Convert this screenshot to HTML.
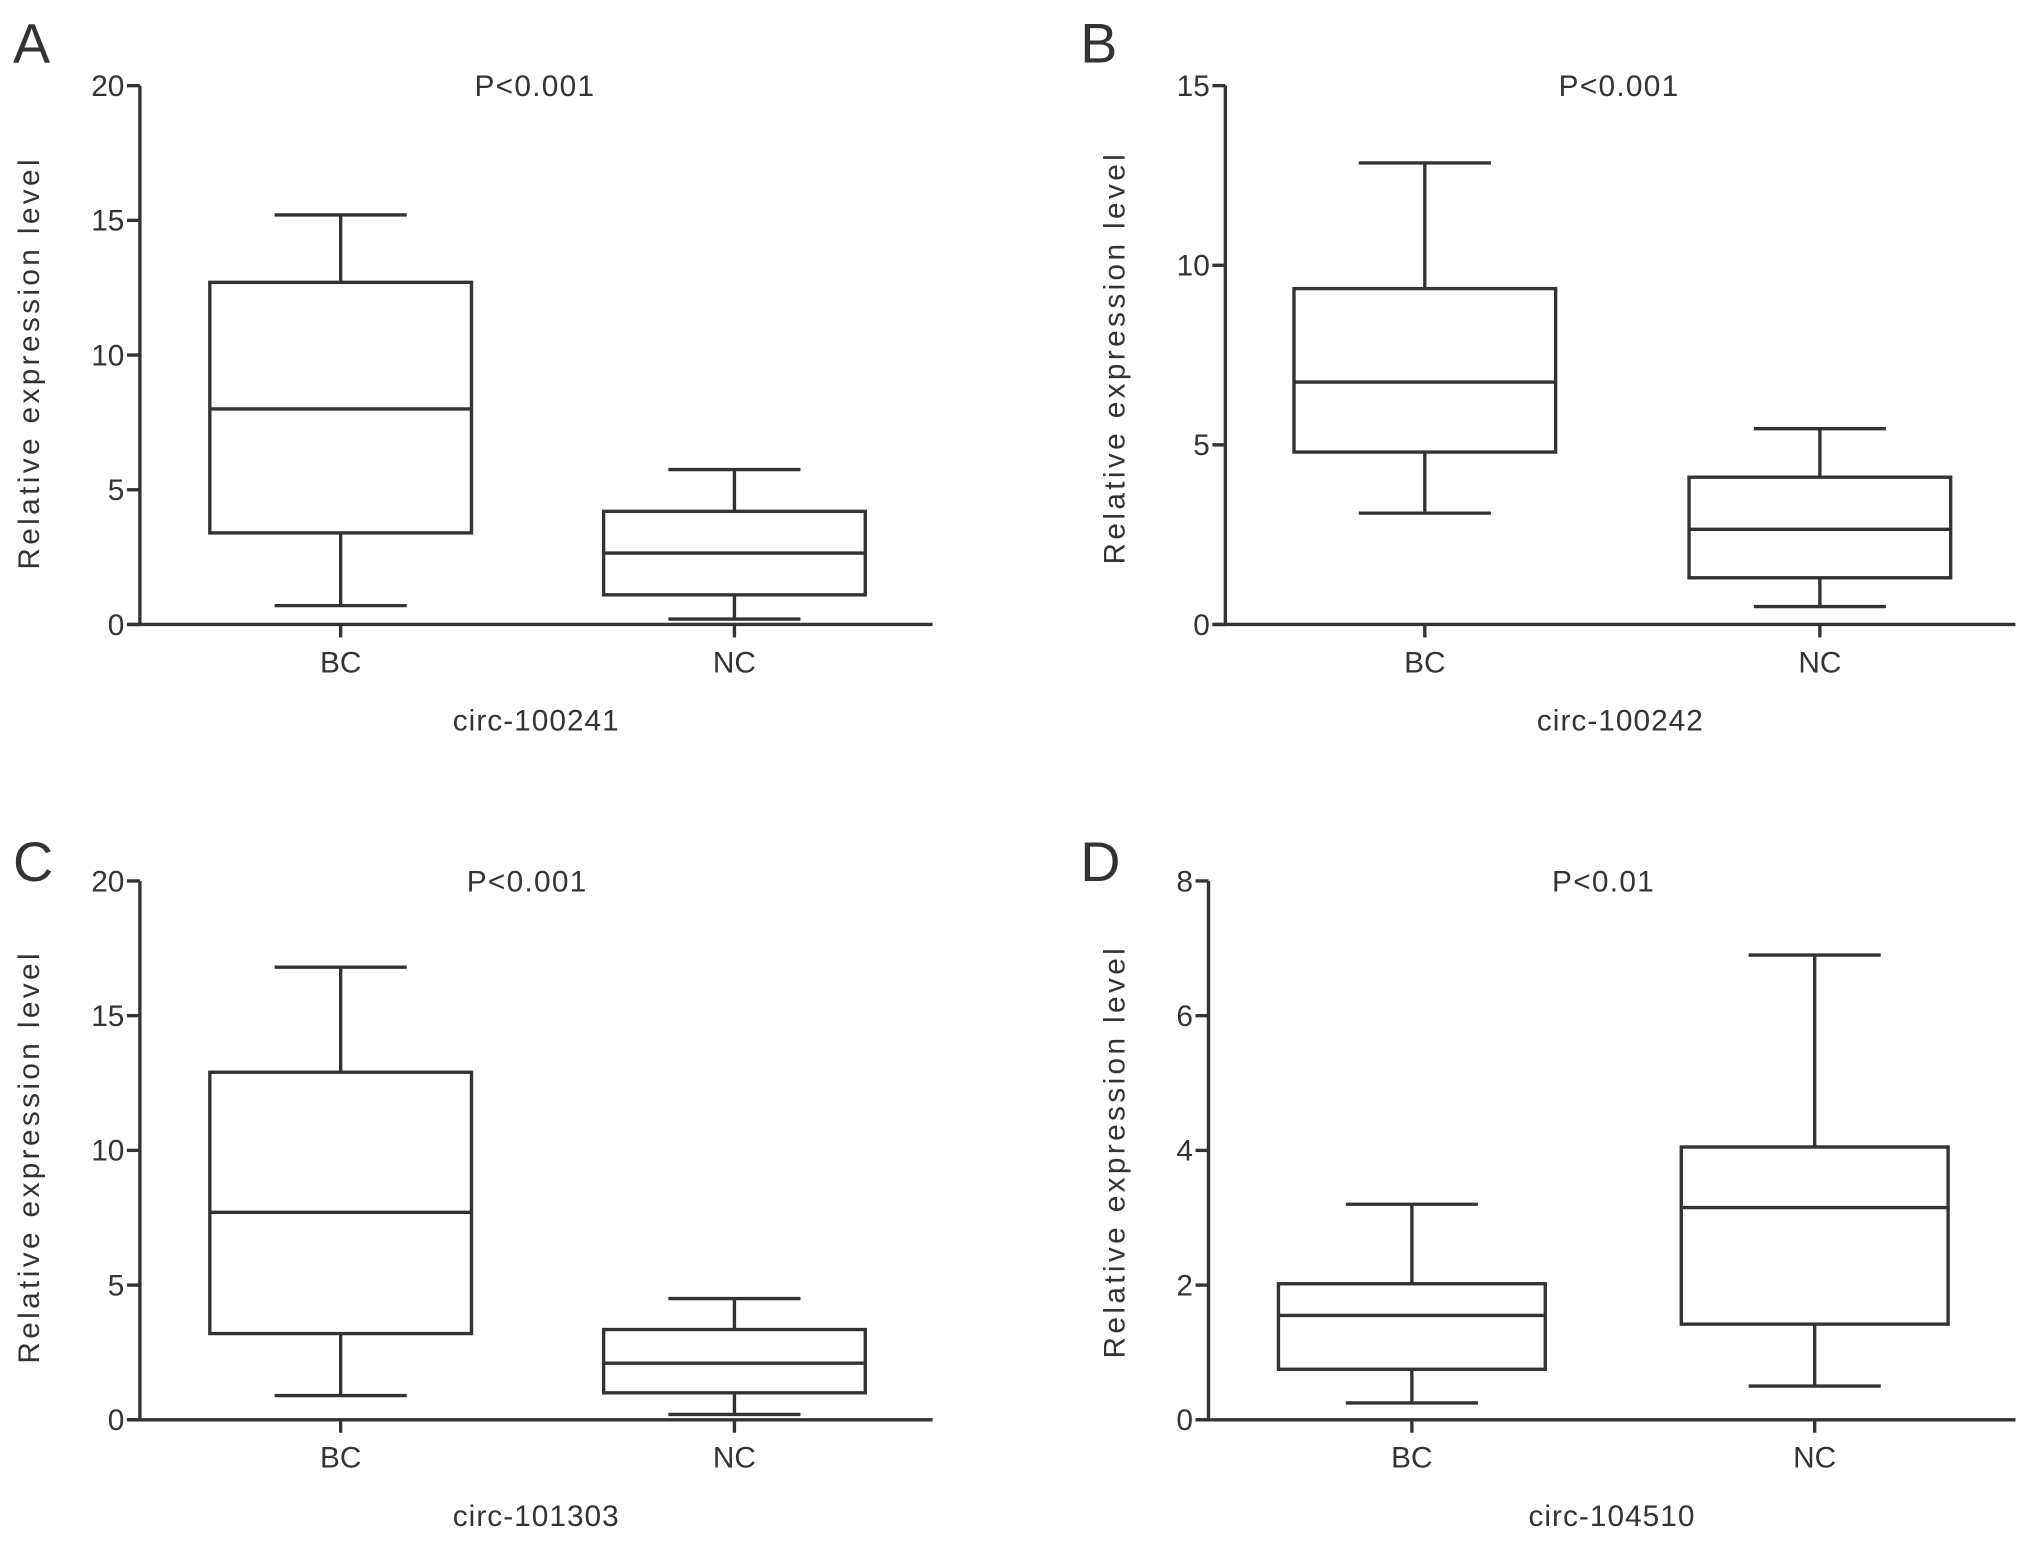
<!DOCTYPE html>
<html><head><meta charset="utf-8"><style>
html,body{margin:0;padding:0;background:#fff}
svg{display:block}
text{font-family:"Liberation Sans",sans-serif;fill:#333}
</style></head><body>
<svg id="fig" width="2031" height="1543" viewBox="0 0 1568 1191" xmlns="http://www.w3.org/2000/svg"></svg>
<script>
const panelLetters = ["A","B","C","D"];
const panelTitles = ["circ-100241","circ-100242","circ-101303","circ-104510"];
const pLabels = ["P<0.001","P<0.001","P<0.001","P<0.01"];
const categories = ["BC","NC"];
const yMaxes = [20,15,20,8];
const yTicks = [[0,5,10,15,20],[0,5,10,15],[0,5,10,15,20],[0,2,4,6,8]];
// [min, q1, median, q3, max] per group
const boxA = [[0.7,3.4,8.0,12.7,15.2],[0.2,1.1,2.65,4.2,5.75]];
const boxB = [[3.1,4.8,6.75,9.35,12.85],[0.5,1.3,2.65,4.1,5.45]];
const boxC = [[0.9,3.2,7.7,12.9,16.8],[0.2,1.0,2.1,3.35,4.5]];
const boxD = [[0.25,0.75,1.55,2.02,3.2],[0.5,1.42,3.15,4.05,6.9]];
const allBoxes = [boxA,boxB,boxC,boxD];

const layout = [
 {ax:108,top:66,bot:482,end:720,c:[263,567],hw:101,cap:51,px:413,lx:10,ly:48,ylx:30,yc:280},
 {ax:946,top:66,bot:482,end:1556,c:[1100,1405],hw:101,cap:51,px:1250,lx:834,ly:48,ylx:868,yc:276},
 {ax:108,top:680,bot:1096,end:720,c:[263,567],hw:101,cap:51,px:407,lx:10,ly:680,ylx:30,yc:893},
 {ax:933,top:680,bot:1096,end:1556,c:[1090,1401],hw:103,cap:51,px:1238,lx:834,ly:680,ylx:868,yc:889}
];
const svg=document.getElementById('fig');
const NS="http://www.w3.org/2000/svg";
function mk(tag,attrs,parent){const e=document.createElementNS(NS,tag);for(const k in attrs)e.setAttribute(k,attrs[k]);parent.appendChild(e);return e;}
const st={stroke:"#333","stroke-width":2.6,fill:"none"};
layout.forEach((L,i)=>{
  const g=mk('g',{},svg);
  
  
  const y=v=>L.bot-(v/yMaxes[i])*(L.bot-L.top);
  let t=mk('text',{x:L.lx,y:L.ly,'font-size':43},g);t.textContent=panelLetters[i];
  
  
  t=mk('text',{x:L.px,y:L.top+8,'font-size':23,'text-anchor':'middle','letter-spacing':'1'},g);t.textContent=pLabels[i];
  
  
  const ya=mk('line',Object.assign({x1:L.ax,y1:L.top,x2:L.ax,y2:L.bot},st),g);
  
  
  const xa=mk('line',Object.assign({x1:L.ax-10,y1:L.bot,x2:L.end,y2:L.bot},st),g);
  
  
  yTicks[i].forEach(v=>{
    mk('line',Object.assign({x1:L.ax-10,y1:y(v),x2:L.ax,y2:y(v)},st),g);
    const tt=mk('text',{x:L.ax-12,y:y(v)+8,'font-size':23,'text-anchor':'end'},g);tt.textContent=v;
    
    
  });
  t=mk('text',{x:0,y:0,'font-size':23,'text-anchor':'middle','letter-spacing':'2.6',transform:`translate(${L.ylx},${L.yc}) rotate(-90)`},g);
  t.textContent="Relative expression level";
  
  
  t=mk('text',{x:(L.ax+L.end)/2,y:L.bot+82,'font-size':23,'text-anchor':'middle','letter-spacing':'0.8'},g);t.textContent=panelTitles[i];
  
  
  allBoxes[i].forEach((b,j)=>{
    const cx=L.c[j];
    mk('line',Object.assign({x1:cx,y1:L.bot,x2:cx,y2:L.bot+10},st),g);
    const xl=mk('text',{x:cx,y:L.bot+37,'font-size':23,'text-anchor':'middle'},g);xl.textContent=categories[j];
    
    
    const bg=mk('g',{},g);
    
    
    mk('line',Object.assign({x1:cx,y1:y(b[0]),x2:cx,y2:y(b[1])},st),bg);
    mk('line',Object.assign({x1:cx,y1:y(b[3]),x2:cx,y2:y(b[4])},st),bg);
    mk('line',Object.assign({x1:cx-L.cap,y1:y(b[0]),x2:cx+L.cap,y2:y(b[0])},st),bg);
    mk('line',Object.assign({x1:cx-L.cap,y1:y(b[4]),x2:cx+L.cap,y2:y(b[4])},st),bg);
    mk('rect',Object.assign({x:cx-L.hw,y:y(b[3]),width:2*L.hw,height:y(b[1])-y(b[3])},st),bg);
    mk('line',Object.assign({x1:cx-L.hw,y1:y(b[2]),x2:cx+L.hw,y2:y(b[2])},st),bg);
  });
});
</script>
</body></html>
